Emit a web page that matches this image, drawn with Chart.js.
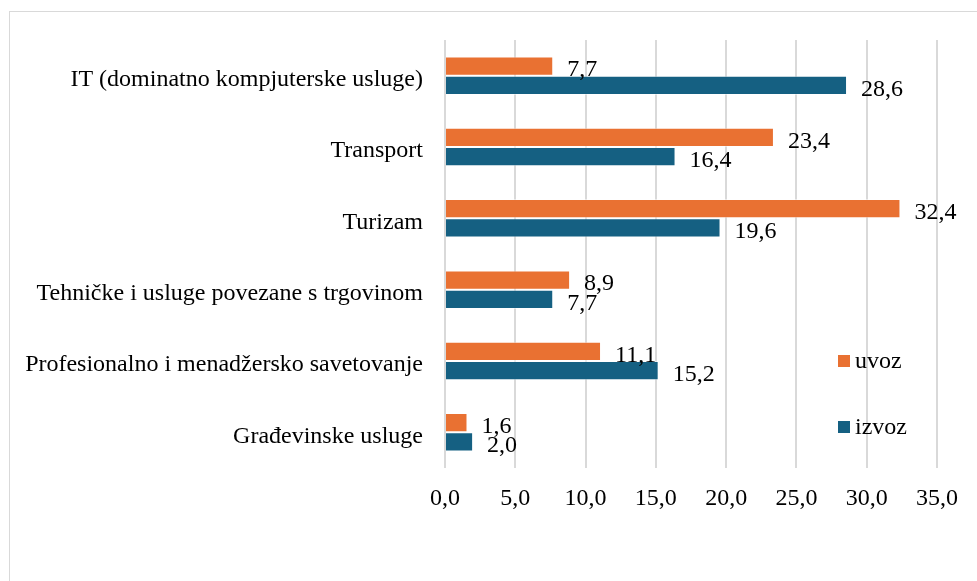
<!DOCTYPE html>
<html>
<head>
<meta charset="utf-8">
<script src="https://cdn.jsdelivr.net/npm/chart.js@4"></script>
<style>
html,body{margin:0;padding:0;background:#fff;}
#wrap{width:977px;height:581px;position:relative;}
</style>
</head>
<body>
<div id="wrap"><canvas id="c" width="977" height="581"></canvas></div>
<script>
const categories = [
  "IT (dominatno kompjuterske usluge)",
  "Transport",
  "Turizam",
  "Tehničke i usluge povezane s trgovinom",
  "Profesionalno i menadžersko savetovanje",
  "Građevinske usluge"
];
const uvoz = [7.7, 23.4, 32.4, 8.9, 11.1, 1.6];
const izvoz = [28.6, 16.4, 19.6, 7.7, 15.2, 2.0];
const seriesNames = ["uvoz", "izvoz"];
const xTicks = [0, 5, 10, 15, 20, 25, 30, 35];

const ORANGE = "#E97132";
const BLUE = "#156082";
const FONT = "'Liberation Serif', 'Times New Roman', serif";

function fmt(v){ return v.toFixed(1).replace('.', ','); }

const labelPlugin = {
  id: 'labelPlugin',
  afterDatasetsDraw(chart){
    const ctx = chart.ctx;
    ctx.save();
    ctx.font = "24px " + FONT;
    ctx.fillStyle = "#000";
    ctx.textBaseline = "middle";
    ctx.textAlign = "left";
    chart.data.datasets.forEach((ds, di) => {
      const meta = chart.getDatasetMeta(di);
      meta.data.forEach((bar, i) => {
        ctx.fillText(fmt(ds.data[i]), bar.x + 14, bar.y + 4);
      });
    });
    // legend
    const items = [[seriesNames[0], ORANGE, 361], [seriesNames[1], BLUE, 427]];
    items.forEach(([name, col, y]) => {
      ctx.fillStyle = col;
      ctx.fillRect(838, y - 6, 12, 12);
      ctx.fillStyle = "#000";
      ctx.fillText(name, 855, y + 1);
    });
    ctx.restore();
  },
  beforeDraw(chart){
    const ctx = chart.ctx;
    ctx.save();
    ctx.fillStyle = "#fff";
    ctx.fillRect(0, 0, chart.width, chart.height);
    ctx.strokeStyle = "#d9d9d9";
    ctx.lineWidth = 1;
    ctx.strokeRect(9.5, 11.5, 1200, 1200);
    ctx.restore();
  }
};

new Chart(document.getElementById('c'), {
  type: 'bar',
  data: {
    labels: categories,
    datasets: [
      { label: seriesNames[0], data: uvoz, backgroundColor: ORANGE, borderColor: "rgba(255,255,255,0.5)", borderWidth: 1, categoryPercentage: 0.54, barPercentage: 1.0 },
      { label: seriesNames[1], data: izvoz, backgroundColor: BLUE, borderColor: "rgba(255,255,255,0.5)", borderWidth: 1, categoryPercentage: 0.54, barPercentage: 1.0 }
    ]
  },
  options: {
    indexAxis: 'y',
    responsive: false,
    animation: false,
    devicePixelRatio: 1,
    layout: { padding: { left: 10, right: 40, top: 40, bottom: 63 } },
    plugins: { legend: { display: false }, tooltip: { enabled: false } },
    scales: {
      x: {
        min: 0, max: 35,
        afterBuildTicks(scale){ scale.ticks = xTicks.map(v => ({ value: v })); },
        afterFit(scale){ scale.height = 50; },
        grid: { color: "#d9d9d9", lineWidth: 2, drawTicks: false },
        border: { display: false },
        ticks: { padding: 16, color: "#000", font: { family: FONT, size: 24 }, callback: v => fmt(v) }
      },
      y: {
        afterFit(scale){ scale.width = 435; },
        grid: { display: false },
        border: { display: false },
        ticks: { padding: 14, labelOffset: 4, color: "#000", font: { family: FONT, size: 24 } }
      }
    }
  },
  plugins: [labelPlugin]
});
</script>
</body>
</html>
